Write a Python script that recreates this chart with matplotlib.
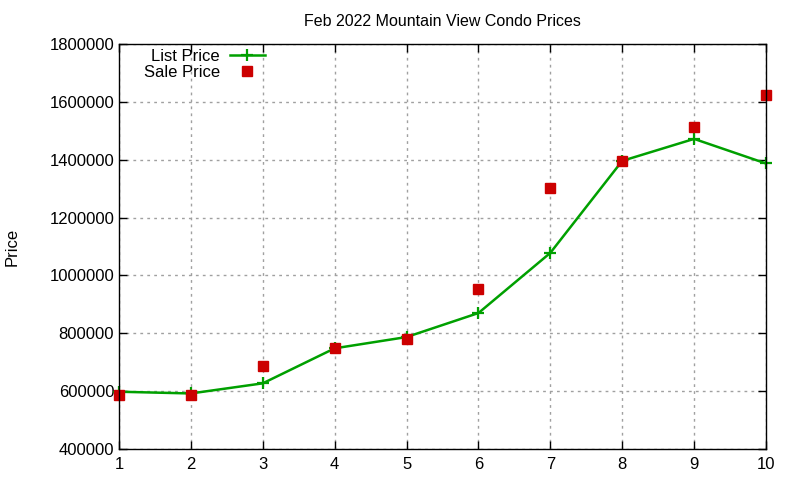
import matplotlib
matplotlib.use('Agg')
import matplotlib.pyplot as plt

plt.rcParams['font.family'] = ['Liberation Sans', 'DejaVu Sans']

# Condo number on the x axis
positions = [1, 2, 3, 4, 5, 6, 7, 8, 9, 10]
list_price = [598000, 592000, 627000, 748000, 787000, 870000, 1078000, 1396000, 1472000, 1387000]
sale_price = [585000, 585000, 688000, 749000, 780000, 953000, 1303000, 1396000, 1514000, 1624000]
y_ticks = [400000, 600000, 800000, 1000000, 1200000, 1400000, 1600000, 1800000]

fig = plt.figure(figsize=(8, 4.8), dpi=100)
ax = fig.add_axes([119 / 800, 31 / 480, 647 / 800, 405 / 480])

ax.plot(positions, list_price, color='#00a000', linewidth=1.8, marker='+',
        markersize=8, markeredgewidth=1.6, label='List Price', zorder=3,
        clip_on=False)
ax.plot(positions, sale_price, linestyle='none', color='#cc0000', marker='s',
        markersize=6.5, label='Sale Price', zorder=4, clip_on=False)

ax.set_xlim(1, 10)
ax.set_ylim(400000, 1800000)
ax.set_xticks(positions)
ax.set_yticks(y_ticks)
ax.set_yticklabels([str(v) for v in y_ticks])
ax.tick_params(direction='in', top=True, right=True, labelsize=12, length=6, width=1)
ax.tick_params(axis='x', pad=6)
ax.grid(True, color='#a0a0a0', linestyle=(0, (2, 3)), linewidth=1)
for s in ax.spines.values():
    s.set_linewidth(1)
    s.set_zorder(5)

ax.set_title('Feb 2022 Mountain View Condo Prices', fontsize=11.5, pad=13)
ax.set_ylabel('Price', fontsize=12, labelpad=21)

ax.legend(loc='upper left', bbox_to_anchor=(0.028, 1.005), frameon=False,
          markerfirst=False, fontsize=12, handlelength=2.1, handletextpad=0.6,
          labelspacing=0.1, borderaxespad=0)

plt.savefig('out.png', dpi=100)
